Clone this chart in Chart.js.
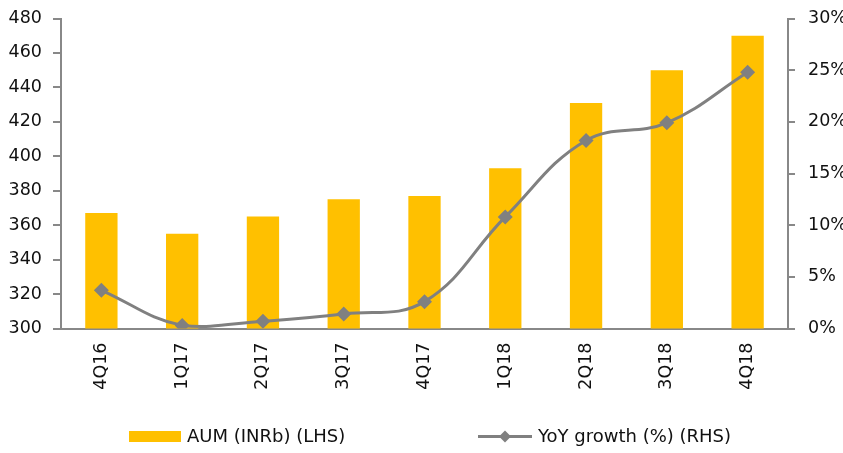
<!DOCTYPE html>
<html>
<head>
<meta charset="utf-8">
<script src="https://cdn.jsdelivr.net/npm/chart.js@4/dist/chart.umd.min.js"></script>
<style>
  html, body { margin: 0; padding: 0; background: #fff; }
  #wrap { width: 843px; height: 453px; position: relative; }
</style>
</head>
<body>
<div id="wrap"><canvas id="chart"></canvas></div>
<script>
// Datos del gráfico
const quarters = ['4Q16', '1Q17', '2Q17', '3Q17', '4Q17', '1Q18', '2Q18', '3Q18', '4Q18'];
const aumValues = [367, 355, 365, 375, 377, 393, 431, 450, 470];
const yoyGrowth = [3.7, 0.3, 0.7, 1.4, 2.6, 10.8, 18.2, 19.9, 24.8];
const leftTicks = [300, 320, 340, 360, 380, 400, 420, 440, 460, 480];
const rightTicks = [0, 5, 10, 15, 20, 25, 30];

const YELLOW = '#FFC000';
const GREY = '#808080';
const AXIS = '#888888';
const FONT = 'DejaVu Sans';

// Leyenda dibujada a mano (posiciones como en el original)
const customLegend = {
    id: 'customLegend',
    afterDraw(chart) {
        const ctx = chart.ctx;
        const ds = chart.data.datasets;
        const y = 436.5;
        ctx.save();
        ctx.font = `18px "${FONT}"`;
        ctx.textBaseline = 'middle';

        // barra
        ctx.fillStyle = ds[0].backgroundColor;
        ctx.fillRect(129, 431, 52, 11);
        ctx.fillStyle = '#111';
        ctx.fillText(ds[0].label, 187, y + 1);

        // línea con rombo
        ctx.strokeStyle = ds[1].borderColor;
        ctx.lineWidth = 3;
        ctx.beginPath();
        ctx.moveTo(478, y);
        ctx.lineTo(532, y);
        ctx.stroke();
        ctx.fillStyle = ds[1].backgroundColor;
        ctx.beginPath();
        ctx.moveTo(505, y - 6);
        ctx.lineTo(511, y);
        ctx.lineTo(505, y + 6);
        ctx.lineTo(499, y);
        ctx.closePath();
        ctx.fill();
        ctx.fillStyle = '#111';
        ctx.fillText(ds[1].label, 538, y + 1);
        ctx.restore();
    }
};

// anchos fijos de los ejes, sin relleno extra arriba/abajo
const fixY = width => scale => {
    scale.width = width;
    scale.paddingTop = 0;
    scale.paddingBottom = 0;
};

new Chart(document.getElementById('chart'), {
    type: 'bar',
    data: {
        labels: quarters,
        datasets: [{
            label: 'AUM (INRb) (LHS)',
            data: aumValues,
            backgroundColor: YELLOW,
            barPercentage: 0.4,
            categoryPercentage: 1,
            yAxisID: 'y',
            order: 1,
        }, {
            type: 'line',
            label: 'YoY growth (%) (RHS)',
            data: yoyGrowth,
            borderColor: GREY,
            backgroundColor: GREY,
            borderWidth: 3,
            pointStyle: 'rectRot',
            pointRadius: 7.5,
            pointHoverRadius: 7.5,
            pointBorderWidth: 0,
            tension: 0.4,
            yAxisID: 'y1',
            order: 0,
        }],
    },
    options: {
        responsive: true,
        maintainAspectRatio: false,
        animation: false,
        layout: { padding: { top: 18.5, left: 0, right: 0, bottom: 0 } },
        plugins: {
            legend: { display: false },
            tooltip: { enabled: false },
        },
        scales: {
            x: {
                grid: { display: false, drawTicks: false },
                border: { display: true, color: AXIS, width: 2 },
                ticks: {
                    color: '#111',
                    font: { family: FONT, size: 17.5 },
                    minRotation: 90,
                    maxRotation: 90,
                    padding: 14,
                },
                afterFit(scale) { scale.height = 124.5; },
            },
            y: {
                position: 'left',
                min: 300,
                max: 480,
                afterBuildTicks(scale) { scale.ticks = leftTicks.map(v => ({ value: v })); },
                grid: { drawOnChartArea: false, drawTicks: true, tickLength: 8, color: AXIS, lineWidth: 2 },
                border: { display: true, color: AXIS, width: 2 },
                ticks: {
                    color: '#111',
                    font: { family: FONT, size: 17.5 },
                    padding: 11,
                },
                afterFit: fixY(61),
            },
            y1: {
                position: 'right',
                min: 0,
                max: 30,
                afterBuildTicks(scale) { scale.ticks = rightTicks.map(v => ({ value: v })); },
                grid: { drawOnChartArea: false, drawTicks: true, tickLength: 7, color: AXIS, lineWidth: 2 },
                border: { display: true, color: AXIS, width: 2 },
                ticks: {
                    color: '#111',
                    font: { family: FONT, size: 17.5 },
                    padding: 13,
                    callback: v => v + '%',
                },
                afterFit: fixY(55),
            },
        },
    },
    plugins: [customLegend],
});
</script>
</body>
</html>
